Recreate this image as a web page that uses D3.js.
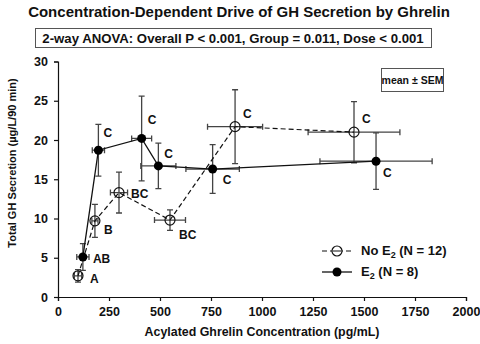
<!DOCTYPE html>
<html lang="en">
<head>
    <meta charset="UTF-8">
    <title>GH Secretion by Ghrelin</title>
    <script src="https://d3js.org/d3.v7.min.js"></script>
    <style>
        body { margin: 0; background: #fff; }
        text { font-family: "Liberation Sans", Arial, sans-serif; font-weight: bold; fill: #111; }
    </style>
</head>
<body>

<script>
// values
// No E2 group (open circles, dashed line)
const noE2X    = [98, 181, 299, 549, 868, 1451];
const noE2XErr = [18, 15, 42, 76, 135, 225];
const noE2Y    = [2.7, 9.7, 13.3, 9.8, 21.7, 21.0];
const noE2YErr = [0.8, 2.1, 2.6, 1.3, 4.7, 3.9];
const noE2Lbl  = ["A", "B", "BC", "BC", "C", "C"];

// E2 group (filled circles, solid line)
const e2X    = [122, 198, 410, 492, 758, 1559];
const e2XErr = [30, 30, 49, 86, 131, 275];
const e2Y    = [5.1, 18.7, 20.2, 16.7, 16.3, 17.3];
const e2YErr = [1.7, 3.3, 5.4, 2.9, 3.1, 3.6];
const e2Lbl  = ["AB", "C", "C", "C", "C", "C"];

const xTicks = [0, 250, 500, 750, 1000, 1250, 1500, 1750, 2000];
const yTicks = [0, 5, 10, 15, 20, 25, 30];

// letter label offsets in px (style only)
const noE2LblOff = [[12, 7], [9, 13], [12, 5], [9, 19], [8, -9], [8, -9]];
const e2LblOff   = [[10, 6], [5, -13], [6, -14], [6, -8], [10, 15], [7, 16]];

const W = 480, H = 344;
const svg = d3.select('body').append('svg')
    .attr('width', W)
    .attr('height', H);

const x = d3.scaleLinear().domain([0, 2000]).range([58, 466]);
const y = d3.scaleLinear().domain([0, 30]).range([297, 61.5]);

// title
svg.append('text')
   .attr('x', 239).attr('y', 17)
   .attr('text-anchor', 'middle')
   .style('font-size', '15px')
   .text('Concentration-Dependent Drive of GH Secretion by Ghrelin');

// anova box
svg.append('rect')
   .attr('x', 35.5).attr('y', 28.5).attr('width', 396).attr('height', 19)
   .attr('fill', 'none').attr('stroke', '#555').attr('stroke-width', 1);
svg.append('text')
   .attr('x', 233).attr('y', 42.5)
   .attr('text-anchor', 'middle')
   .style('font-size', '13.2px')
   .text('2-way ANOVA: Overall P < 0.001, Group = 0.011, Dose < 0.001');

// axes
const xAxis = svg.append('g')
   .attr('transform', 'translate(0,297)')
   .call(d3.axisBottom(x).tickValues(xTicks).tickSize(4).tickPadding(6).tickFormat(d3.format('d')));
const yAxis = svg.append('g')
   .attr('transform', 'translate(58,0)')
   .call(d3.axisLeft(y).tickValues(yTicks).tickSize(4).tickPadding(6));
[xAxis, yAxis].forEach(g => {
    g.select('.domain').attr('stroke', '#111').attr('stroke-width', 1.2);
    g.selectAll('.tick line').attr('stroke', '#111').attr('stroke-width', 1.2);
    g.selectAll('.tick text')
     .style('font-family', '"Liberation Sans", Arial, sans-serif')
     .style('font-weight', 'bold')
     .style('font-size', '12.5px')
     .attr('fill', '#111');
});

// axis titles
svg.append('text')
   .attr('x', 262).attr('y', 336)
   .attr('text-anchor', 'middle')
   .style('font-size', '12.4px')
   .text('Acylated Ghrelin Concentration (pg/mL)');
svg.append('text')
   .attr('transform', 'translate(16,163) rotate(-90)')
   .attr('text-anchor', 'middle')
   .style('font-size', '11px')
   .text('Total GH Secretion (\u00b5g/L/90 min)');

// mean ± SEM box
svg.append('rect')
   .attr('x', 381.5).attr('y', 68.5).attr('width', 62).attr('height', 23)
   .attr('fill', 'none').attr('stroke', '#555');
svg.append('text')
   .attr('x', 412.5).attr('y', 84)
   .attr('text-anchor', 'middle')
   .style('font-size', '10.5px')
   .text('mean \u00b1 SEM');

function makeSeries(xs, xe, ys, ye) {
    return xs.map((v, i) => ({ x: v, xe: xe[i], y: ys[i], ye: ye[i] }));
}
const noE2 = makeSeries(noE2X, noE2XErr, noE2Y, noE2YErr);
const e2 = makeSeries(e2X, e2XErr, e2Y, e2YErr);

const line = d3.line().x(d => x(d.x)).y(d => y(d.y));

function drawErrors(data) {
    const g = svg.append('g').attr('stroke', '#444').attr('stroke-width', 1.3).attr('fill', 'none');
    const cap = 3;
    data.forEach(d => {
        const cx = x(d.x), cy = y(d.y);
        const y0 = y(d.y - d.ye), y1 = y(d.y + d.ye);
        const x0 = x(d.x - d.xe), x1 = x(d.x + d.xe);
        g.append('path').attr('d',
            `M${cx},${y0}V${y1}M${cx - cap},${y0}H${cx + cap}M${cx - cap},${y1}H${cx + cap}` +
            `M${x0},${cy}H${x1}M${x0},${cy - cap}V${cy + cap}M${x1},${cy - cap}V${cy + cap}`);
    });
}

drawErrors(noE2);
drawErrors(e2);

svg.append('path').datum(noE2).attr('d', line)
   .attr('fill', 'none').attr('stroke', '#111').attr('stroke-width', 1.2)
   .attr('stroke-dasharray', '5,3');
svg.append('path').datum(e2).attr('d', line)
   .attr('fill', 'none').attr('stroke', '#111').attr('stroke-width', 1.3);

// markers
const openG = svg.append('g');
noE2.forEach(d => {
    openG.append('circle').attr('cx', x(d.x)).attr('cy', y(d.y)).attr('r', 5)
        .attr('fill', 'none').attr('stroke', '#111').attr('stroke-width', 1.2);
});
svg.selectAll('.fill').data(e2).enter().append('circle')
   .attr('cx', d => x(d.x)).attr('cy', d => y(d.y)).attr('r', 4.5)
   .attr('fill', '#000');

// letter labels
function drawLetters(data, lbl, off) {
    data.forEach((d, i) => {
        svg.append('text')
           .attr('x', x(d.x) + off[i][0]).attr('y', y(d.y) + off[i][1])
           .style('font-size', '12px')
           .text(lbl[i]);
    });
}
drawLetters(noE2, noE2Lbl, noE2LblOff);
drawLetters(e2, e2Lbl, e2LblOff);

// legend
const lg = svg.append('g');
lg.append('path').attr('d', 'M322,251H352').attr('stroke', '#111').attr('stroke-width', 1.2)
  .attr('stroke-dasharray', '5,3');
lg.append('circle').attr('cx', 337).attr('cy', 251).attr('r', 5)
  .attr('fill', '#fff').attr('stroke', '#111').attr('stroke-width', 1.2);
lg.append('path').attr('d', 'M333,251H341').attr('stroke', '#111').attr('stroke-width', 1);
const t1 = lg.append('text').attr('x', 361).attr('y', 255).style('font-size', '13px');
t1.append('tspan').text('No E');
t1.append('tspan').attr('dy', 3).style('font-size', '9px').text('2');
t1.append('tspan').attr('dy', -3).text(' (N = 12)');

lg.append('path').attr('d', 'M322,272H352').attr('stroke', '#111').attr('stroke-width', 1.3);
lg.append('circle').attr('cx', 337).attr('cy', 272).attr('r', 4.5).attr('fill', '#000');
const t2 = lg.append('text').attr('x', 361).attr('y', 276).style('font-size', '13px');
t2.append('tspan').text('E');
t2.append('tspan').attr('dy', 3).style('font-size', '9px').text('2');
t2.append('tspan').attr('dy', -3).text(' (N = 8)');
</script>

</body>
</html>
